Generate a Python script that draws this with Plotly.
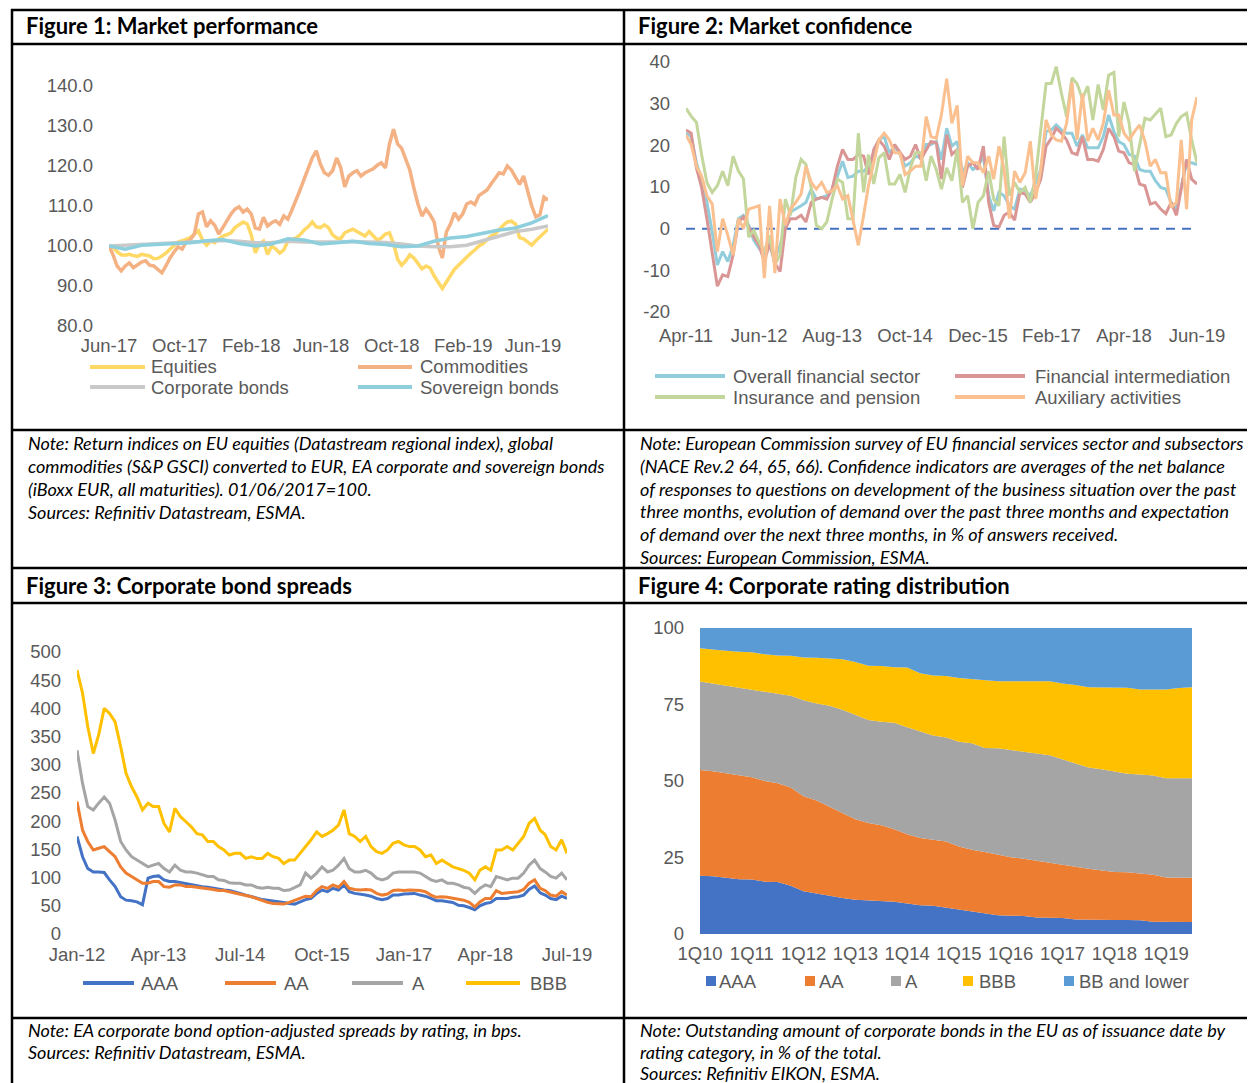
import plotly.graph_objects as go
import pandas as pd

W, H = 1255, 1083
OFF = 8  # the page body adds an 8px margin around the figure


def X(px):
    return (px - OFF) / W


def Y(py):
    return 1 - (py - OFF) / H


# ---------------- Figure 1 data (weekly / 4-weekly, 01/06/2017 = 100) ----------------
f1_dates_weekly = pd.date_range("2017-06-01", periods=109, freq="7D")
f1_dates_bonds = pd.date_range("2017-06-01", periods=28, freq="28D")

equities = [100, 99.6, 98.6, 97.8, 97.7, 97.9, 97.6, 97.4, 97.9, 97.7,
            97.5, 96.8, 96.9, 97.5, 98.2, 99.2, 100.2, 101, 101.3, 101.7,
            102.1, 103, 103.8, 101.5, 100.2, 101.2, 100.8, 101.8, 102.5, 102.8,
            103.3, 104.6, 105.2, 106, 105.5, 102.8, 98.3, 100.4, 101.2, 97.9,
            100, 99.3, 98.2, 99, 101.2, 101.7, 102, 102.8, 104, 104.8,
            106, 104.8, 104.6, 105.3, 104.6, 102.8, 102, 101.8, 103.3, 103.8,
            104.2, 103.6, 103, 102.5, 103.6, 102.5, 101.5, 102, 103, 103.3,
            100.6, 96.7, 95.2, 96.3, 97.8, 97, 95.6, 94.3, 95, 94.5,
            92.5, 91, 89.4, 91, 92.7, 94.2, 95.2, 96.3, 97.2, 98.2,
            99, 100, 100.6, 101.6, 102.5, 103, 104.2, 105.2, 106, 106.2,
            105.5, 102.1, 101.8, 101, 100.2, 101.3, 102.3, 103.3, 104.2]

commodities = [100, 97.8, 95, 93.8, 95, 95.8, 94.6, 95.4, 96, 96.3,
               95.2, 95, 94, 93.3, 95, 97, 98.5, 99.8, 99.2, 101,
               101.5, 103, 108, 108.5, 104.8, 106.3, 105.2, 103, 104.6, 106.5,
               108, 109.2, 109.8, 108.5, 109.2, 108, 104.5, 104.2, 107.2, 105,
               105.8, 106.3, 105.4, 107.5, 106.7, 109, 111.3, 114, 116.7, 119.5,
               122, 123.8, 120.5, 118.3, 117.7, 118.8, 122, 119.6, 114.8, 117.5,
               118.3, 118.8, 117.5, 118.3, 118.8, 119.3, 120.2, 120.8, 119.5, 125.5,
               129.2, 125.5, 124.4, 121.7, 119, 114.5, 110.5, 107.5, 109.2, 107.8,
               106, 100, 97, 103.5, 105.5, 108.3, 106.7, 108, 110.5, 111,
               110.4, 112.6, 113.3, 114, 115.5, 117, 118.3, 118, 120, 119,
               117.3, 115.4, 117.5, 114, 110, 107.3, 107.8, 112.2, 111.5]

corporate_bonds = [100, 100.2, 100.5, 100.6, 100.8, 101, 101.2, 101.4, 101.2, 100.8,
                   100.9, 101.2, 101, 100.9, 101, 101.1, 101, 100.9, 100.5, 100,
                   99.8, 99.8, 100.2, 101.3, 102.6, 103.6, 104.2, 105]

sovereign_bonds = [100, 99.2, 100.2, 100.4, 100.4, 100.8, 101.3, 101.6, 100.6, 100,
                   100.5, 101.8, 101.5, 100.5, 100.8, 101.2, 100.6, 100.4, 99.8, 100,
                   101.2, 102, 102.4, 103.2, 104, 104.5, 105.8, 107.6]

f1_tickvals = ["2017-06-01", "2017-10-01", "2018-02-01", "2018-06-01",
               "2018-10-01", "2019-02-01", "2019-06-01"]
f1_ticktext = ["Jun-17", "Oct-17", "Feb-18", "Jun-18", "Oct-18", "Feb-19", "Jun-19"]
f1_yticks = [80, 90, 100, 110, 120, 130, 140]
f1_ytext = ["80.0", "90.0", "100.0", "110.0", "120.0", "130.0", "140.0"]

# ---------------- Figure 2 data (monthly, Apr-11 .. Jun-19) ----------------
f2_dates = pd.date_range("2011-04-01", periods=99, freq="MS")

overall_fin = [22.9, 22.1, 15.8, 11.9, 6.3, -0.8, -8.7, -5.5, -7.9, -4.0,
               2.4, 3.2, 0.8, -2.8, -4.7, -6.3, -3.2, -7.1, -4.0, 0.8,
               4.0, 4.7, 5.5, 6.3, 9.5, 7.1, 7.5, 7.9, 9.5, 12.6,
               16.2, 12.3, 12.6, 13.8, 13.8, 15.0, 18.2, 21.3, 22.1, 18.2,
               19.8, 17.8, 15.0, 15.8, 17.4, 17.0, 20.2, 20.2, 20.9, 16.6,
               24.1, 19.8, 20.9, 13.4, 15.8, 14.2, 15.0, 17.4, 7.9, 4.3,
               8.7, 7.9, 5.5, 4.7, 9.5, 9.1, 7.9, 11.1, 14.2, 23.3,
               23.7, 24.9, 23.7, 22.9, 22.9, 19.8, 22.5, 19.4, 19.4, 19.4,
               22.1, 27.3, 23.3, 20.9, 20.2, 17.8, 17.4, 14.2, 13.8, 13.8,
               11.5, 9.9, 9.5, 6.3, 4.7, 10.3, 15.8, 15.8, 15.4]

fin_intermediation = [23.7, 22.9, 14.6, 9.9, 2.4, -6.3, -13.8, -11.1, -11.5, -6.3,
                      1.6, 2.8, 0.4, -2.0, -4.0, -7.9, -3.6, -8.3, -10.3, 0.0,
                      2.4, 2.4, 3.2, 1.6, 6.3, 7.1, 7.5, 7.1, 9.5, 15.0,
                      19.0, 16.6, 16.6, 17.8, 17.4, 13.0, 19.0, 21.3, 19.8, 16.6,
                      20.2, 18.2, 16.6, 17.4, 20.2, 16.6, 19.0, 20.9, 20.6, 11.9,
                      22.5, 17.8, 19.0, 9.9, 15.0, 15.8, 14.2, 19.8, 6.3, 0.8,
                      0.4, 3.2, 4.0, 2.0, 8.7, 8.3, 6.3, 8.7, 11.9, 19.8,
                      21.7, 24.1, 22.9, 21.3, 18.2, 17.8, 22.1, 16.6, 16.6, 16.2,
                      19.0, 24.1, 22.1, 18.6, 18.2, 15.8, 15.4, 10.7, 10.3, 5.9,
                      6.3, 4.7, 3.6, 6.3, 3.2, 9.9, 16.6, 11.9, 10.7]

insurance_pension = [28.9, 27.0, 25.5, 17.8, 11.1, 8.7, 10.3, 13.8, 10.3, 17.4,
                     13.8, 12.0, -2.0, -0.4, -3.2, -5.5, -1.6, -8.7, -6.3, 7.1,
                     3.2, 12.3, 16.6, 15.4, 9.9, 0.8, 0.0, 1.6, 7.1, 11.9,
                     11.1, 2.4, 2.4, 22.9, 8.7, 17.8, 10.7, 17.0, 18.2, 10.7,
                     10.7, 13.0, 8.7, 14.6, 18.2, 18.2, 11.5, 17.4, 14.2, 9.5,
                     14.6, 11.5, 19.0, 6.3, 7.9, 0.0, 6.3, 7.9, 13.8, 7.1,
                     5.5, 22.1, 7.9, 11.1, 8.7, 9.9, 6.3, 12.6, 23.7, 34.8,
                     34.9, 38.9, 32.4, 26.9, 36.2, 34.8, 31.2, 34.2, 26.1, 34.6,
                     28.5, 36.8, 37.5, 22.1, 30.4, 25.3, 13.8, 20.2, 26.5, 26.1,
                     27.5, 28.9, 22.1, 22.5, 25.3, 26.9, 27.7, 21.3, 15.8]

auxiliary = [22.5, 20.2, 15.0, 12.6, 7.9, 5.9, -5.5, 2.4, -1.6, -6.3,
             2.4, 0.0, 4.7, 5.1, 5.5, -11.9, 5.5, -10.7, 7.1, 0.8,
             4.7, 6.3, 8.3, 15.0, 11.1, 9.5, 11.1, 8.7, 9.1, 10.3,
             7.1, 7.9, 2.4, -4.0, 3.2, 10.3, 15.8, 21.3, 22.9, 21.3,
             18.2, 18.2, 13.0, 13.8, 15.0, 15.0, 26.9, 22.1, 21.7, 27.3,
             36.0, 25.3, 29.6, 10.3, 17.4, 15.8, 15.8, 13.4, 17.4, 11.9,
             19.8, 14.2, 2.4, 13.8, 11.1, 13.4, 21.0, 7.1, 14.2, 26.1,
             22.5, 21.3, 21.0, 25.3, 35.2, 21.3, 32.4, 21.0, 24.1, 21.3,
             25.3, 33.2, 27.3, 27.3, 22.9, 21.3, 23.3, 24.9, 21.0, 15.0,
             16.6, 13.4, 13.4, 5.1, 6.3, 21.3, 4.7, 26.1, 31.6]

zero_dates = ["2011-04-01", "2019-05-01"]
zero_vals = [0, 0]

f2_tickvals = ["2011-04-01", "2012-06-01", "2013-08-01", "2014-10-01",
               "2015-12-01", "2017-02-01", "2018-04-01", "2019-06-01"]
f2_ticktext = ["Apr-11", "Jun-12", "Aug-13", "Oct-14", "Dec-15", "Feb-17", "Apr-18", "Jun-19"]
f2_yticks = [-20, -10, 0, 10, 20, 30, 40]
f2_ytext = ["-20", "-10", "0", "10", "20", "30", "40"]

# ---------------- Figure 3 data (monthly, Jan-12 .. Jul-19, bps) ----------------
f3_dates = pd.date_range("2012-01-01", periods=91, freq="MS")

spread_aaa = [173, 137, 116, 110, 110, 109, 96, 84, 66, 60,
              59, 57, 52, 99, 102, 103, 96, 93, 93, 91,
              90, 87, 85, 84, 83, 81, 79, 78, 77, 75,
              72, 69, 66, 63, 61, 60, 59, 57, 56, 54,
              53, 57, 61, 63, 72, 78, 75, 81, 78, 87,
              75, 72, 71, 69, 67, 63, 61, 63, 69, 69,
              71, 72, 72, 69, 67, 63, 59, 59, 57, 56,
              51, 50, 47, 43, 50, 54, 56, 63, 63, 63,
              65, 66, 69, 79, 85, 73, 69, 63, 61, 67,
              63]

spread_aa = [235, 184, 164, 149, 152, 155, 146, 137, 119, 108,
             102, 96, 90, 90, 93, 93, 84, 83, 87, 87,
             84, 84, 83, 81, 81, 79, 77, 77, 75, 73,
             71, 69, 66, 63, 59, 56, 54, 54, 53, 56,
             60, 63, 67, 66, 77, 84, 81, 87, 83, 93,
             81, 79, 78, 79, 78, 72, 69, 71, 77, 78,
             77, 78, 78, 77, 75, 69, 65, 66, 65, 63,
             61, 60, 56, 48, 57, 63, 63, 77, 72, 73,
             75, 75, 79, 90, 96, 81, 77, 69, 67, 75,
             69]

spread_a = [326, 267, 226, 220, 232, 243, 232, 202, 164, 149,
            137, 131, 125, 119, 122, 125, 116, 110, 122, 113,
            110, 110, 108, 105, 102, 102, 96, 95, 91, 90,
            90, 87, 87, 83, 81, 83, 81, 81, 77, 78,
            83, 87, 108, 99, 108, 119, 110, 113, 122, 134,
            116, 110, 110, 113, 108, 99, 96, 99, 108, 110,
            110, 110, 110, 108, 102, 96, 93, 96, 90, 90,
            87, 83, 81, 72, 81, 87, 84, 102, 99, 96,
            99, 99, 108, 122, 131, 116, 110, 102, 99, 108,
            96]

spread_bbb = [468, 427, 368, 320, 353, 400, 391, 376, 332, 285,
              261, 243, 220, 232, 226, 226, 196, 181, 223, 208,
              199, 190, 178, 176, 164, 164, 155, 149, 140, 143,
              143, 134, 137, 134, 134, 143, 137, 134, 125, 131,
              131, 143, 155, 167, 181, 173, 178, 184, 193, 220,
              178, 173, 164, 173, 155, 146, 143, 149, 161, 164,
              158, 155, 155, 149, 137, 140, 125, 131, 125, 119,
              116, 113, 108, 96, 113, 119, 113, 149, 149, 155,
              149, 161, 173, 196, 205, 184, 176, 155, 149, 167,
              143]

f3_tickvals = ["2012-01-01", "2013-04-01", "2014-07-01", "2015-10-01",
               "2017-01-01", "2018-04-01", "2019-07-01"]
f3_ticktext = ["Jan-12", "Apr-13", "Jul-14", "Oct-15", "Jan-17", "Apr-18", "Jul-19"]

# ---------------- Figure 4 data (quarterly shares, %) ----------------
quarters = ["1Q10", "2Q10", "3Q10", "4Q10", "1Q11", "2Q11", "3Q11", "4Q11",
            "1Q12", "2Q12", "3Q12", "4Q12", "1Q13", "2Q13", "3Q13", "4Q13",
            "1Q14", "2Q14", "3Q14", "4Q14", "1Q15", "2Q15", "3Q15", "4Q15",
            "1Q16", "2Q16", "3Q16", "4Q16", "1Q17", "2Q17", "3Q17", "4Q17",
            "1Q18", "2Q18", "3Q18", "4Q18", "1Q19", "2Q19", "3Q19"]
f4_ticks = ["1Q10", "1Q11", "1Q12", "1Q13", "1Q14", "1Q15", "1Q16", "1Q17", "1Q18", "1Q19"]

share_aaa = [19.0, 18.9, 18.4, 17.9, 17.8, 17.1, 17.0, 15.8, 14.0, 13.2,
             12.5, 11.8, 11.2, 11.0, 10.6, 10.5, 10.0, 9.4, 9.2, 8.6,
             7.9, 7.2, 6.7, 6.1, 6.0, 5.9, 5.4, 5.3, 5.2, 4.7,
             4.6, 4.6, 4.6, 4.6, 4.5, 4.0, 3.9, 3.9, 3.9]
share_aa = [34.6, 34.3, 34.1, 33.9, 33.4, 32.9, 32.3, 32.1, 31.0, 30.4,
            29.0, 27.7, 26.3, 25.3, 24.9, 23.7, 22.6, 22.0, 21.6, 21.6,
            20.7, 20.3, 20.1, 19.8, 19.1, 18.7, 18.6, 18.0, 17.4, 17.3,
            16.7, 16.2, 15.7, 15.6, 15.2, 15.4, 14.6, 14.5, 14.5]
share_a = [28.9, 28.6, 28.6, 28.7, 28.7, 29.2, 29.2, 30.0, 31.4, 31.7,
           33.1, 33.8, 34.2, 33.6, 33.9, 34.8, 35.0, 34.8, 34.1, 34.0,
           34.2, 34.8, 34.0, 34.8, 35.1, 35.0, 35.0, 35.1, 34.5, 33.8,
           33.1, 33.0, 32.9, 32.2, 32.4, 32.4, 32.4, 32.5, 32.5]
share_bbb = [10.9, 11.1, 11.5, 11.7, 12.2, 12.2, 12.5, 13.0, 14.0, 15.0,
             15.5, 16.5, 17.2, 17.8, 18.2, 18.2, 19.5, 19.0, 19.6, 20.1,
             20.9, 21.0, 22.2, 21.9, 22.4, 23.0, 23.6, 24.2, 24.8, 25.6,
             26.2, 26.8, 27.4, 28.1, 27.8, 28.1, 29.0, 29.5, 29.7]
share_bb_lower = [6.6, 7.1, 7.4, 7.8, 7.9, 8.6, 9.0, 9.1, 9.6, 9.7,
                  9.9, 10.2, 11.1, 12.3, 12.4, 12.8, 12.9, 14.8, 15.5, 15.7,
                  16.3, 16.7, 17.0, 17.4, 17.4, 17.4, 17.4, 17.4, 18.1, 18.6,
                  19.4, 19.4, 19.4, 19.5, 20.1, 20.1, 20.1, 19.6, 19.4]

# ---------------- styling ----------------
GRAY_TXT = "#595959"
tick_font = dict(family="Liberation Sans, Arial, sans-serif", size=18.5, color=GRAY_TXT)
leg_font = dict(family="Liberation Sans, Arial, sans-serif", size=18.5, color=GRAY_TXT)
title_font = dict(family="Lato, 'Open Sans', sans-serif", size=22, color="black")
note_font = dict(family="Lato, 'Open Sans', sans-serif", size=18, color="black")

fig = go.Figure()


def add_line(x, y, color, width, name, ax, dash=None):
    fig.add_trace(go.Scatter(x=x, y=y, mode="lines", name=name, showlegend=False,
                             line=dict(color=color, width=width, dash=dash),
                             xaxis="x" + ax, yaxis="y" + ax, hoverinfo="skip"))


# Figure 1
add_line(f1_dates_weekly, equities, "#FFD866", 3.5, "Equities", "")
add_line(f1_dates_weekly, commodities, "#F4B183", 3.5, "Commodities", "")
add_line(f1_dates_bonds, corporate_bonds, "#C9C9C9", 3.5, "Corporate bonds", "")
add_line(f1_dates_bonds, sovereign_bonds, "#8ECFDD", 3.5, "Sovereign bonds", "")

# Figure 2
add_line(zero_dates, zero_vals, "#4472C4", 2, "zero", "2", dash="9px,7px")
add_line(f2_dates, overall_fin, "#92CDDC", 3, "Overall financial sector", "2")
add_line(f2_dates, fin_intermediation, "#D99694", 3, "Financial intermediation", "2")
add_line(f2_dates, insurance_pension, "#C3D69B", 3, "Insurance and pension", "2")
add_line(f2_dates, auxiliary, "#FAC090", 3, "Auxiliary activities", "2")

# Figure 3
add_line(f3_dates, spread_aaa, "#4472C4", 3, "AAA", "3")
add_line(f3_dates, spread_aa, "#ED7D31", 3, "AA", "3")
add_line(f3_dates, spread_a, "#A5A5A5", 3, "A", "3")
add_line(f3_dates, spread_bbb, "#FFC000", 3, "BBB", "3")

# Figure 4 (stacked areas)
f4_series = [("AAA", share_aaa, "#4472C4"), ("AA", share_aa, "#ED7D31"),
             ("A", share_a, "#A5A5A5"), ("BBB", share_bbb, "#FFC000"),
             ("BB and lower", share_bb_lower, "#5B9BD5")]
for name, vals, col in f4_series:
    fig.add_trace(go.Scatter(x=quarters, y=vals, mode="lines", name=name, showlegend=False,
                             stackgroup="rating", line=dict(width=0, color=col),
                             fillcolor=col, xaxis="x4", yaxis="y4", hoverinfo="skip"))

axis_common = dict(showgrid=False, zeroline=False, showline=False, ticks="",
                   tickfont=tick_font, fixedrange=True, automargin=False)

fig.update_layout(
    width=W, height=H,
    margin=dict(l=0, r=0, t=0, b=0, pad=0, autoexpand=False),
    paper_bgcolor="white", plot_bgcolor="rgba(0,0,0,0)", showlegend=False,
    xaxis=dict(axis_common, type="date", domain=[X(109), X(548)],
               range=["2017-06-01", "2019-06-27"], tickmode="array",
               tickvals=f1_tickvals, ticktext=f1_ticktext, anchor="y", ticklabelstandoff=6),
    yaxis=dict(axis_common, domain=[Y(326), Y(86)], range=[80, 140], tickmode="array",
               tickvals=f1_yticks, ticktext=f1_ytext, anchor="x", ticklabelstandoff=15),
    xaxis2=dict(axis_common, type="date", domain=[X(686), X(1197)],
                range=["2011-04-01", "2019-06-01"], tickmode="array",
                tickvals=f2_tickvals, ticktext=f2_ticktext, anchor="y2", ticklabelstandoff=10),
    yaxis2=dict(axis_common, domain=[Y(312), Y(62)], range=[-20, 40], tickmode="array",
                tickvals=f2_yticks, ticktext=f2_ytext, anchor="x2", ticklabelstandoff=15),
    xaxis3=dict(axis_common, type="date", domain=[X(77), X(567)],
                range=["2012-01-01", "2019-07-01"], tickmode="array",
                tickvals=f3_tickvals, ticktext=f3_ticktext, anchor="y3", ticklabelstandoff=7),
    yaxis3=dict(axis_common, domain=[Y(934), Y(652)], range=[0, 500], tickmode="linear",
                tick0=0, dtick=50, anchor="x3", ticklabelstandoff=15),
    xaxis4=dict(axis_common, type="category", domain=[X(700), X(1192)],
                range=[0, len(quarters) - 1], tickmode="array",
                tickvals=f4_ticks, ticktext=f4_ticks, anchor="y4", ticklabelstandoff=6),
    yaxis4=dict(axis_common, domain=[Y(934), Y(628)], range=[0, 100], tickmode="linear",
                tick0=0, dtick=25, anchor="x4", ticklabelstandoff=15),
)

shapes = []
annotations = []

# table grid
LINE = dict(color="black", width=2.5)
for py in [10, 44, 430, 568, 603, 1018]:
    shapes.append(dict(type="line", xref="paper", yref="paper", x0=X(11), x1=1.0,
                       y0=Y(py), y1=Y(py), line=LINE))
for px in [12, 624]:
    shapes.append(dict(type="line", xref="paper", yref="paper", x0=X(px), x1=X(px),
                       y0=Y(9), y1=0, line=LINE))


def text(t, px, py, font, xanchor="left"):
    annotations.append(dict(text=t, x=X(px), y=Y(py), xref="paper", yref="paper",
                            xanchor=xanchor, yanchor="middle", showarrow=False, font=font))


# titles
text("<b>Figure 1: Market performance</b>", 24, 26, title_font)
text("<b>Figure 2: Market confidence</b>", 636, 26, title_font)
text("<b>Figure 3: Corporate bond spreads</b>", 24, 585, title_font)
text("<b>Figure 4: Corporate rating distribution</b>", 636, 585, title_font)

# notes
note1 = ["Note: Return indices on EU equities (Datastream regional index), global",
         "commodities (S&P GSCI) converted to EUR, EA corporate and sovereign bonds",
         "(iBoxx EUR, all maturities). 01/06/2017=100.",
         "Sources: Refinitiv Datastream, ESMA."]
note2 = ["Note: European Commission survey of EU financial services sector and subsectors",
         "(NACE Rev.2 64, 65, 66). Confidence indicators are averages of the net balance",
         "of responses to questions on development of the business situation over the past",
         "three months, evolution of demand over the past three months and expectation",
         "of demand over the next three months, in % of answers received.",
         "Sources: European Commission, ESMA."]
note3 = ["Note: EA corporate bond option-adjusted spreads by rating, in bps.",
         "Sources: Refinitiv Datastream, ESMA."]
note4 = ["Note: Outstanding amount of corporate bonds in the EU as of issuance date by",
         "rating category, in % of the total.",
         "Sources: Refinitiv EIKON, ESMA."]
for i, ln in enumerate(note1):
    text("<i>" + ln.replace("&", "&amp;") + "</i>", 26, 443 + 23 * i, note_font)
for i, ln in enumerate(note2):
    text("<i>" + ln + "</i>", 638, 443 + 22.8 * i, note_font)
for i, ln in enumerate(note3):
    text("<i>" + ln + "</i>", 26, 1030 + 22 * i, note_font)
for i, ln in enumerate(note4):
    text("<i>" + ln + "</i>", 638, 1030 + 21.5 * i, note_font)


# legends (drawn manually to reproduce the original layout)
def leg_line(x0, x1, py, color, label, tx, width=4):
    shapes.append(dict(type="line", xref="paper", yref="paper", x0=X(x0), x1=X(x1),
                       y0=Y(py), y1=Y(py), line=dict(color=color, width=width)))
    text(label, tx, py, leg_font)


def leg_box(px, py, color, label, tx, size=10):
    shapes.append(dict(type="rect", xref="paper", yref="paper", x0=X(px), x1=X(px + size),
                       y0=Y(py + size / 2), y1=Y(py - size / 2), line=dict(width=0),
                       fillcolor=color))
    text(label, tx, py, leg_font)


leg_line(90, 145, 367, "#FFD866", "Equities", 149)
leg_line(358, 412, 367, "#F4B183", "Commodities", 418)
leg_line(90, 145, 387, "#C9C9C9", "Corporate bonds", 149)
leg_line(358, 412, 387, "#8ECFDD", "Sovereign bonds", 418)

leg_line(655, 725, 376, "#92CDDC", "Overall financial sector", 731)
leg_line(955, 1025, 376, "#D99694", "Financial intermediation", 1033)
leg_line(655, 725, 397, "#C3D69B", "Insurance and pension", 731)
leg_line(955, 1025, 397, "#FAC090", "Auxiliary activities", 1033)

leg_line(83, 134, 983, "#4472C4", "AAA", 139)
leg_line(225, 276, 983, "#ED7D31", "AA", 282)
leg_line(352, 403, 983, "#A5A5A5", "A", 410)
leg_line(466, 520, 983, "#FFC000", "BBB", 528)

leg_box(706, 981, "#4472C4", "AAA", 717)
leg_box(805, 981, "#ED7D31", "AA", 817)
leg_box(891, 981, "#A5A5A5", "A", 903)
leg_box(963, 981, "#FFC000", "BBB", 977)
leg_box(1064, 981, "#5B9BD5", "BB and lower", 1077)

fig.update_layout(shapes=shapes, annotations=annotations)

fig.write_html("out.html")
